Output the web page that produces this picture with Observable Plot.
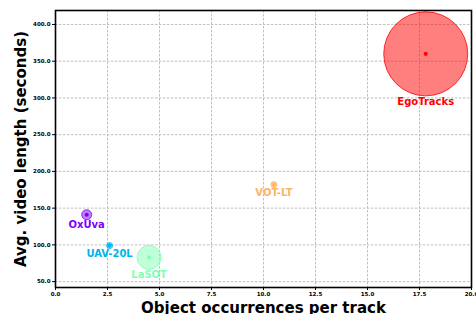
<!DOCTYPE html>
<html>
<head>
<meta charset="utf-8">
<script src="https://cdn.jsdelivr.net/npm/d3@7"></script>
<script src="https://cdn.jsdelivr.net/npm/@observablehq/plot@0.6"></script>
<style>
  html, body { margin: 0; padding: 0; background: #fff; }
  svg { display: block; }
</style>
</head>
<body>
<div id="chart"></div>
<script>
// Data
const names = ["OxUva", "UAV-20L", "LaSOT", "VOT-LT", "EgoTracks"];
const occurrences = [1.5, 2.6, 4.5, 10.5, 17.8];      // x: object occurrences per track
const videoLength = [141, 99, 83, 182, 360];           // y: avg. video length (s)
const bubbleSize = [8.5, 3.1, 49, 3.1, 600];            // bubble area value (e.g. total hours)
const palette = ["#8000ff", "#00b4eb", "#80ffb4", "#ffb462", "#ff0000"];
const xTicks = [0, 2.5, 5, 7.5, 10, 12.5, 15, 17.5, 20];
const yTicks = [50, 100, 150, 200, 250, 300, 350, 400];
const xTitle = "Object occurrences per track";
const yTitle = "Avg. video length (seconds)";

const data = names.map((n, i) => ({name: n, x: occurrences[i], y: videoLength[i], size: bubbleSize[i]}));

const rOpts = {type: "sqrt", domain: [0, 600], range: [0, 42]};
const rScale = Plot.scale({r: rOpts});

const grid = {stroke: "#b0b0b0", strokeOpacity: 1, strokeWidth: 0.8, strokeDasharray: "2.5,1.5"};
const fmt = d3.format(".1f");

const chart = Plot.plot({
  width: 476,
  height: 314,
  marginLeft: 55,
  marginRight: 5,
  marginTop: 10,
  marginBottom: 27,
  style: {fontFamily: "DejaVu Sans", background: "#fff"},
  x: {domain: [0, 20]},
  y: {domain: [42, 419]},
  r: rOpts,
  color: {domain: names, range: palette},
  marks: [
    Plot.gridX(xTicks, grid),
    Plot.gridY(yTicks, grid),
    Plot.axisX(xTicks, {tickFormat: fmt, fontSize: 5.5, fontWeight: "bold", tickSize: 3, tickPadding: 2, label: null, stroke: "#000"}),
    Plot.axisY(yTicks, {tickFormat: fmt, fontSize: 5.5, fontWeight: "bold", tickSize: 3, tickPadding: 2, label: null, stroke: "#000"}),
    Plot.dot(data, {x: "x", y: "y", r: "size", fill: "name", fillOpacity: 0.5, stroke: "name", strokeWidth: 0.8}),
    Plot.dot(data, {x: "x", y: "y", r: () => 1.4, fill: "name", stroke: null}),
    ...data.map(d => Plot.text([d], {
      x: "x", y: "y", text: "name", fill: "name",
      dy: rScale.apply(d.size) + 5.5,
      fontSize: 10, fontWeight: "bold"
    })),
    Plot.frame({stroke: "#000", strokeWidth: 1.6}),
    Plot.text([xTitle], {frameAnchor: "bottom", dy: 25, lineAnchor: "bottom", textAnchor: "middle", fontSize: 15, fontWeight: "bold", fill: "#000"}),
    Plot.text([yTitle], {frameAnchor: "left", dx: -30, rotate: -90, lineAnchor: "bottom", textAnchor: "middle", fontSize: 15, fontWeight: "bold", fill: "#000"})
  ]
});
document.getElementById("chart").appendChild(chart);
</script>
</body>
</html>
